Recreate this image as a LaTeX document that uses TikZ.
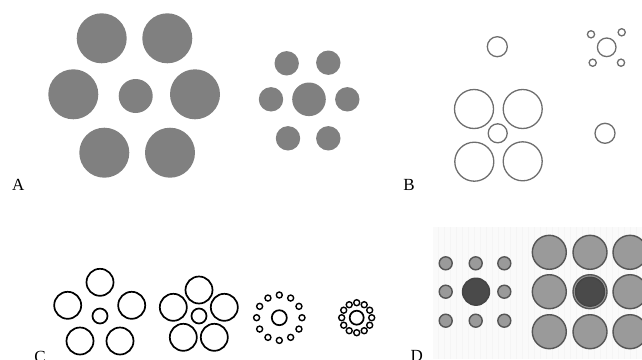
\documentclass[tikz,border=0pt]{standalone}
\usepackage{fontspec}
\setmainfont{Liberation Serif}
\definecolor{agray}{HTML}{808080}
\definecolor{bgray}{HTML}{6E6E6E}
\definecolor{dfill}{HTML}{9A9A9A}
\definecolor{ddark}{HTML}{4A4A4A}
\definecolor{dline}{HTML}{555555}
\tikzset{
  afill/.style={fill=agray},
  bring/.style={draw=bgray,line width=1.3pt},
  cring/.style={draw=black,line width=1.7pt},
  cdot/.style={draw=black,line width=1.4pt},
  dlight/.style={draw=dline,fill=dfill,line width=1.4pt},
  ddarkc/.style={draw=dline!80!black,fill=ddark,line width=1.4pt},
  lbl/.style={font=\fontsize{17}{17}\selectfont,anchor=base,inner sep=0pt}
}
\begin{document}
\begin{tikzpicture}[x=1pt,y=-1pt]
\useasboundingbox (0,0) rectangle (642,359);
% ---------- A ----------
\fill[afill] (101.7,38.3) circle (25);
\fill[afill] (167.3,38.3) circle (25);
\fill[afill] (73.3,94.3) circle (25);
\fill[afill] (195,94.3) circle (25);
\fill[afill] (104.3,152.7) circle (25);
\fill[afill] (170,152.7) circle (25);
\fill[afill] (135.7,96) circle (17);
\fill[afill] (309,99.3) circle (16.8);
\fill[afill] (286.7,63.3) circle (12.2);
\fill[afill] (328.3,62.7) circle (12.2);
\fill[afill] (271,99.3) circle (12.2);
\fill[afill] (347.3,99.3) circle (12.2);
\fill[afill] (288,138.3) circle (12.2);
\fill[afill] (328.3,138.3) circle (12.2);
\node[lbl] (labA) at (18.3,190.5) {A};
% ---------- B ----------
\draw[bring] (497.3,46.7) circle (10);
\draw[bring] (606.7,47.3) circle (9.3);
\draw[bring] (591,34.3) circle (3.6);
\draw[bring] (621.7,32.3) circle (3.6);
\draw[bring] (592.7,62.7) circle (3.6);
\draw[bring] (621,62.7) circle (3.6);
\draw[bring] (474,109) circle (19.5);
\draw[bring] (522.7,109) circle (19.5);
\draw[bring] (474.3,161.7) circle (19.5);
\draw[bring] (522.7,161.3) circle (19.5);
\draw[bring] (497.7,133.3) circle (9.5);
\draw[bring] (605,133.3) circle (10);
\node[lbl] (labB) at (409,190.5) {B};
% ---------- C ----------
\draw[cring] (100,282.3) circle (13.5);
\draw[cring] (67.7,305.3) circle (13.5);
\draw[cring] (131.7,305.3) circle (13.5);
\draw[cring] (80,341) circle (13.5);
\draw[cring] (120,341) circle (13.5);
\draw[cring] (100,316) circle (7.5);
\draw[cring] (199,290) circle (13.5);
\draw[cring] (173.3,307.3) circle (13.5);
\draw[cring] (224.3,307.3) circle (13.5);
\draw[cring] (183.3,337.3) circle (13.5);
\draw[cring] (214.3,337.3) circle (13.5);
\draw[cring] (199,316) circle (7.5);
\draw[cring] (279.3,317.7) circle (7.5);
\foreach \a in {0,30,...,330}
  \draw[cdot] (279.3,317.7) ++(\a:22.7) circle (3);
\draw[cring] (356.7,317.7) circle (7);
\foreach \a in {0,30,...,330}
  \draw[cdot] (356.7,317.7) ++(\a:15) circle (3);
\node[lbl] (labC) at (40,362) {C};
% ---------- D ----------
\fill[black!2] (433,227) rectangle (642,359);
\draw[black!4,line width=0.3pt,step=6] (433,227) grid (642,359);
\foreach \x in {445.7,475.7,504.3}
  \foreach \y in {263.3,291.7,320.7}
    \draw[dlight] (\x,\y) circle (6.5);
\draw[ddarkc] (476,291.7) circle (13.5);
\foreach \x in {549.3,590,630}
  \foreach \y in {252.3,291.7,331.7}
    \draw[dlight] (\x,\y) circle (17);
\draw[ddarkc] (590,291.7) circle (14.5);
\node[lbl] (labD) at (416.7,361) {D};
\end{tikzpicture}
\end{document}
